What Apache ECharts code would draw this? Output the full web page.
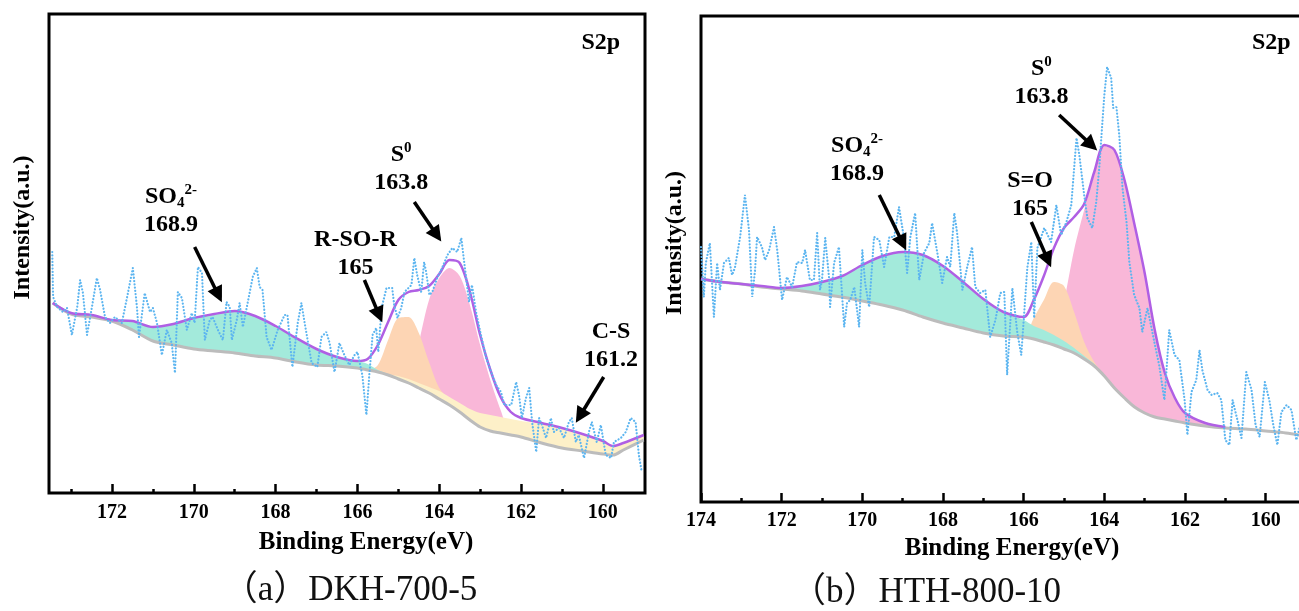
<!DOCTYPE html>
<html>
<head>
<meta charset="utf-8">
<title>S2p XPS spectra</title>
<script src="https://cdn.jsdelivr.net/npm/echarts@6/dist/echarts.min.js"></script>
<style>
  html, body { margin: 0; padding: 0; background: #fff; }
  #chart { width: 1299px; height: 611px; }
</style>
</head>
<body>
<div id="chart"></div>
<script>
// ---------- Sample (a) DKH-700-5 : fitted curves on a shared energy grid (eV) ----------
const gridA = [173.45, 173.0, 172.5, 172.0, 171.5, 171.0, 170.5, 170.0, 169.5, 169.0, 168.5, 168.0, 167.5, 167.0, 166.5,
  166.0, 165.75, 165.5, 165.25, 165.0, 164.75, 164.5, 164.25, 164.0, 163.75, 163.5, 163.25, 163.0, 162.75, 162.5,
  162.25, 162.0, 161.5, 161.0, 160.5, 160.0, 159.75, 159.5, 159.0];
const backgroundA = [190, 179, 176, 172, 163, 152, 148, 144, 142, 140, 137, 135, 131, 128, 127,
  125, 123, 121, 118, 114, 110, 105, 100, 94, 88, 81, 73, 66, 62, 60,
  58, 56, 50, 45, 42, 39, 38, 43, 53];
const envelopeA = [190, 180, 178, 173, 172, 166, 169, 175, 179, 182, 177, 167, 155, 144, 136,
  132, 134, 148, 171, 193, 201, 203, 207, 219, 233, 230, 201, 158, 123, 96,
  81, 75, 70, 65, 59, 52, 47, 50, 58];
const sulfateA = [190, 180, 178, 173, 172, 166, 169, 175, 179, 182, 177, 167, 155, 144, 136,
  132, 129, 123, 119, 115, null, null, null, null, null, null, null, null, null, null,
  null, null, null, null, null, null, null, null, null];
const sulfoxideA = [null, null, null, null, null, null, null, null, null, null, null, null, null, null, null,
  null, null, 128, 153, 175, 176, 160, 131, 105, 93, null, null, null, null, null,
  null, null, null, null, null, null, null, null, null];
const sulfurA = [null, null, null, null, null, null, null, null, null, null, null, null, null, null, null,
  null, null, null, null, null, null, 150, 193, 215, 225, 217, 188, 148, 113, 83,
  null, null, null, null, null, null, null, null, null];
const thiolA = [null, null, null, null, null, null, null, null, null, null, null, null, null, null, null,
  null, null, 121, 119, 117, 114, 110, 106, 102, 96, 90, 84, 80, 78, 76,
  74, 72, 69, 64, 58, 52, 47, 50, 57];
// measured counts (a)
const rawA = [[173.46,241],[173.44,196],[173.34,186],[173.20,181],[173.10,185],[172.98,158],[172.85,186],[172.78,213],[172.71,200],[172.61,158],
  [172.49,186],[172.37,215],[172.29,203],[172.17,176],[172.05,170],[171.93,176],[171.76,170],[171.63,196],[171.49,225],[171.39,186],
  [171.34,156],[171.20,200],[171.07,181],[171.00,185],[170.90,170],[170.78,138],[170.66,163],[170.54,150],[170.46,120],[170.39,201],
  [170.29,195],[170.17,163],[170.05,180],[169.98,170],[169.90,226],[169.80,220],[169.73,153],[169.61,173],[169.54,176],[169.41,163],
  [169.29,153],[169.20,191],[169.12,186],[169.07,153],[168.95,173],[168.88,190],[168.80,166],[168.68,191],[168.56,216],[168.46,225],
  [168.39,206],[168.32,203],[168.22,156],[168.10,143],[167.95,163],[167.78,178],[167.71,178],[167.59,126],[167.46,170],[167.37,190],
  [167.29,170],[167.12,130],[166.98,126],[166.88,156],[166.76,161],[166.68,150],[166.56,121],[166.44,150],[166.32,138],[166.20,128],
  [166.07,138],[166.00,141],[165.88,118],[165.78,78],[165.71,118],[165.63,158],[165.54,165],[165.49,141],[165.41,185],[165.29,205],
  [165.22,205],[165.15,205],[165.10,188],[165.02,175],[164.93,185],[164.85,201],[164.68,208],[164.61,235],[164.54,218],[164.44,201],
  [164.37,231],[164.32,221],[164.24,198],[164.17,201],[164.05,215],[163.93,225],[163.80,238],[163.68,245],[163.56,241],[163.46,255],
  [163.39,231],[163.27,191],[163.20,208],[163.10,181],[162.98,158],[162.85,135],[162.73,121],[162.61,108],[162.49,101],[162.41,88],
  [162.24,88],[162.12,111],[162.05,98],[161.98,75],[161.88,95],[161.80,105],[161.73,71],[161.63,41],[161.56,75],[161.49,68],
  [161.39,55],[161.27,75],[161.20,61],[161.07,65],[160.95,55],[160.83,71],[160.76,75],[160.66,51],[160.59,58],[160.46,35],
  [160.34,61],[160.27,71],[160.15,51],[160.05,68],[159.93,38],[159.80,35],[159.73,51],[159.56,55],[159.44,61],[159.32,75],
  [159.20,71],[159.12,38],[159.05,21]];

// ---------- Sample (b) HTH-800-10 ----------
const gridB = [174.0, 173.5, 173.0, 172.5, 172.0, 171.5, 171.0, 170.5, 170.0, 169.5, 169.0, 168.5, 168.0, 167.5, 167.0,
  166.5, 166.0, 165.75, 165.5, 165.25, 165.0, 164.75, 164.5, 164.25, 164.0, 163.75, 163.5, 163.25, 163.0, 162.75,
  162.5, 162.25, 162.0, 161.5, 161.0, 160.5, 160.0, 159.5, 159.0];
const backgroundB = [223, 220, 218, 215, 213, 211, 208, 205, 201, 197, 192, 185, 179, 174, 169,
  166, 165, 163, 160, 157, 153, 149, 143, 136, 126, 114, 104, 95, 89, 85,
  83, 81, 79, 76, 74, 73, 71, 69, 66];
const envelopeB = [223, 220, 218, 216, 214, 216, 220, 226, 237, 246, 250, 247, 236, 220, 203,
  190, 185, 202, 226, 254, 274, 285, 298, 330, 357, 352, 322, 277, 229, 172,
  129, 104, 89, 79, 75, null, null, null, null];
const sulfateB = [223, 220, 218, 216, 214, 216, 220, 226, 237, 246, 250, 247, 236, 220, 203,
  190, 182, 176, 172, 167, 161, 154, 146, 138, null, null, null, null, null, null,
  null, null, null, null, null, null, null, null, null];
const sulfoxideB = [null, null, null, null, null, null, null, null, null, null, null, null, null, null, null,
  null, null, 184, 202, 220, 216, 190, 160, 140, 127, null, null, null, null, null,
  null, null, null, null, null, null, null, null, null];
const sulfurB = [null, null, null, null, null, null, null, null, null, null, null, null, null, null, null,
  null, null, null, null, null, 200, 252, 292, 327, 356, 351, 321, 276, 228, 171,
  128, 103, 88, 79, 75, null, null, null, null];
// measured counts (b)
const rawB = [[174.00,255],[173.93,205],[173.88,239],[173.78,259],[173.73,222],[173.68,185],[173.60,239],[173.53,212],[173.43,239],[173.31,244],
  [173.23,227],[173.16,234],[173.03,265],[172.91,307],[172.81,272],[172.73,205],[172.66,232],[172.61,265],[172.49,255],[172.41,242],
  [172.31,252],[172.19,275],[172.11,252],[171.99,202],[171.87,225],[171.74,215],[171.62,240],[171.49,239],[171.42,252],[171.30,222],
  [171.20,222],[171.12,269],[171.05,212],[171.00,222],[170.92,264],[170.82,222],[170.80,195],[170.70,239],[170.58,255],[170.45,175],
  [170.38,199],[170.30,202],[170.20,215],[170.08,175],[170.00,252],[169.93,219],[169.83,195],[169.71,265],[169.58,262],[169.46,235],
  [169.33,265],[169.21,265],[169.09,295],[168.96,262],[168.89,229],[168.81,265],[168.69,289],[168.59,222],[168.47,249],[168.34,259],
  [168.27,279],[168.14,249],[168.02,219],[167.90,245],[167.82,235],[167.72,289],[167.65,269],[167.52,212],[167.40,235],[167.28,255],
  [167.20,215],[167.08,209],[166.95,212],[166.83,165],[166.70,182],[166.58,209],[166.48,210],[166.41,127],[166.28,214],[166.16,170],
  [166.06,147],[165.99,187],[165.91,234],[165.81,260],[165.74,184],[165.66,254],[165.49,274],[165.32,260],[165.19,297],[165.07,267],
  [164.94,280],[164.82,297],[164.69,364],[164.62,347],[164.50,307],[164.42,284],[164.30,274],[164.20,300],[164.12,337],[164.07,367],
  [164.00,407],[163.93,435],[163.83,424],[163.78,394],[163.70,395],[163.63,367],[163.55,314],[163.45,280],[163.38,240],[163.26,207],
  [163.13,194],[163.06,170],[162.93,194],[162.76,160],[162.64,137],[162.51,102],[162.39,172],[162.26,147],[162.14,142],[162.01,102],
  [161.94,67],[161.84,110],[161.72,122],[161.64,152],[161.57,132],[161.44,112],[161.34,107],[161.20,109],[161.10,102],[161.00,62],
  [160.90,57],[160.82,102],[160.70,82],[160.60,64],[160.48,130],[160.35,112],[160.25,77],[160.15,65],[160.02,120],[159.91,102],
  [159.81,77],[159.71,57],[159.61,90],[159.48,97],[159.36,92],[159.24,62],[159.11,82]];

// ---------- tick values ----------
const ticksA = [160, 162, 164, 166, 168, 170, 172];
const minorTicksA = [161, 163, 165, 167, 169, 171, 173];
const ticksB = [160, 162, 164, 166, 168, 170, 172, 174];
const minorTicksB = [159, 161, 163, 165, 167, 169, 171, 173];

// ---------- peak labels: anchor [eV, intensity] and text ----------
const labelsA = [
  { at: [170.56, 282], text: '{t|SO}{sub|4}{sup|2-}\n{t|168.9}' },
  { at: [166.05, 239], text: '{t|R-SO-R}\n{t|165}' },
  { at: [164.93, 324], text: '{t|S}{sup|0}\n{t|163.8}' },
  { at: [159.80, 147], text: '{t|C-S}\n{t|161.2}' },
  { at: [160.05, 450], text: '{t|S2p}' }
];
const arrowsA = [
  [[169.98, 246], [169.40, 198]],
  [[165.83, 213], [165.47, 178]],
  [[164.61, 291], [164.06, 258]],
  [[159.98, 116], [160.56, 77]]
];
const labelsB = [
  { at: [170.13, 342], text: '{t|SO}{sub|4}{sup|2-}\n{t|168.9}' },
  { at: [165.84, 307], text: '{t|S=O}\n{t|165}' },
  { at: [165.56, 419], text: '{t|S}{sup|0}\n{t|163.8}' },
  { at: [159.86, 459], text: '{t|S2p}' }
];
const arrowsB = [
  [[169.58, 307], [169.00, 259]],
  [[165.81, 280], [165.40, 242]],
  [[165.12, 387], [164.32, 357]]
];

// ---------- styling ----------
const SERIF = "'Liberation Serif', 'Times New Roman', serif";
const SERIF_CJK = "'Liberation Serif', 'Noto Sans CJK SC', serif";
const C = {
  sulfate: '#a3eadb', sulfoxide: '#fdd5b4', sulfur: '#f9b7d8', thiol: '#fdf0c8',
  envelope: '#b05fe4', background: '#bcbcbc', raw: '#5cb5f0', ink: '#000'
};
const TOKEN = { fontFamily: SERIF, fontWeight: 'bold', color: C.ink, textBorderWidth: 0, textShadowBlur: 0, opacity: 1 };
const RICH = {
  t: Object.assign({ fontSize: 24, lineHeight: 28 }, TOKEN),
  sub: Object.assign({ fontSize: 15, lineHeight: 12, verticalAlign: 'bottom' }, TOKEN),
  sup: Object.assign({ fontSize: 15, lineHeight: 12, verticalAlign: 'top' }, TOKEN)
};

// Component fill between the background and its own top curve.
// Values come first in each item (encode y:0) so the stack is applied to intensity.
function componentFill(gi, energy, bg, top, color, key) {
  const stack = 'p' + gi + key;
  const common = {
    type: 'line', xAxisIndex: gi * 2, yAxisIndex: gi, stack, stackStrategy: 'all',
    encode: { x: 1, y: 0 },
    symbol: 'none', smooth: 0.3, silent: true, lineStyle: { width: 0, opacity: 0 }
  };
  return [
    Object.assign({}, common, { data: energy.map((e, k) => [bg[k], e]) }),
    Object.assign({}, common, {
      data: energy.map((e, k) => [top[k] == null ? 0 : Math.max(0, top[k] - bg[k]), e]),
      areaStyle: { color, opacity: 1 }
    })
  ];
}

function curve(gi, energy, values, color, width, smooth) {
  return {
    type: 'line', xAxisIndex: gi * 2, yAxisIndex: gi, symbol: 'none', silent: true, smooth,
    data: energy.map((e, k) => [e, values[k]]),
    lineStyle: { color, width }
  };
}

function rawLine(gi, pts) {
  return {
    type: 'line', xAxisIndex: gi * 2, yAxisIndex: gi, symbol: 'none', silent: true,
    data: pts,
    lineStyle: { color: C.raw, width: 2.2, type: [0.1, 3.2], cap: 'round' }
  };
}

function annotations(gi, labels, arrows) {
  return {
    type: 'scatter', xAxisIndex: gi * 2, yAxisIndex: gi, symbolSize: 0, silent: true,
    itemStyle: { color: '#000', opacity: 1 },
    data: labels.map(l => ({ value: l.at, label: { formatter: l.text } })),
    label: {
      show: true, position: 'inside', align: 'center', verticalAlign: 'middle',
      color: C.ink, opacity: 1, textBorderWidth: 0, textBorderColor: 'transparent', rich: RICH
    },
    markLine: {
      silent: true, animation: false, symbol: ['none', 'triangle'], symbolSize: 16,
      label: { show: false },
      lineStyle: { color: '#000', width: 3.5, type: 'solid', opacity: 1 },
      emphasis: { disabled: true },
      data: arrows.map(a => [{ coord: a[0] }, { coord: a[1] }])
    }
  };
}

function xAxes(gi, min, max, ticks, minors, nameGap, namePad, labelMargin) {
  return [{
    type: 'value', gridIndex: gi, inverse: true, min, max, position: 'bottom',
    axisLine: { show: false }, splitLine: { show: false },
    axisTick: { show: true, inside: true, length: 9, customValues: ticks, lineStyle: { color: '#000', width: 2.5 } },
    axisLabel: { show: true, customValues: ticks, margin: labelMargin, color: C.ink, fontFamily: SERIF, fontWeight: 'bold', fontSize: 20 },
    name: 'Binding Energy(eV)', nameLocation: 'middle', nameGap,
    nameTextStyle: { fontFamily: SERIF, fontWeight: 'bold', fontSize: 25, color: C.ink, padding: [0, 0, 0, namePad] }
  }, {
    type: 'value', gridIndex: gi, inverse: true, min, max, position: 'bottom',
    axisLine: { show: false }, splitLine: { show: false }, axisLabel: { show: false },
    axisTick: { show: true, inside: true, length: 4, customValues: minors, lineStyle: { color: '#000', width: 2.5 } }
  }];
}

function yAxis(gi, max, namePad) {
  return {
    type: 'value', gridIndex: gi, min: 0, max,
    axisLine: { show: false }, axisTick: { show: false }, axisLabel: { show: false }, splitLine: { show: false },
    name: 'Intensity(a.u.)', nameLocation: 'middle', nameGap: 14, nameRotate: 90,
    nameTextStyle: { fontFamily: SERIF, fontWeight: 'bold', fontSize: 24, color: C.ink, padding: [0, 0, 0, namePad] }
  };
}

const chart = echarts.init(document.getElementById('chart'), null, { renderer: 'canvas' });
const frame = { show: true, borderColor: '#000', borderWidth: 3, backgroundColor: 'transparent', outerBoundsMode: 'none', containLabel: false };

chart.setOption({
  animation: false,
  backgroundColor: '#fff',
  grid: [
    Object.assign({ left: 49, top: 14, width: 596, height: 479 }, frame),
    Object.assign({ left: 701, top: 16, width: 605, height: 486 }, frame)
  ],
  xAxis: [].concat(
    xAxes(0, 158.97, 173.54, ticksA, minorTicksA, 37, 38, 10),
    xAxes(1, 159.0, 174.0, ticksB, minorTicksB, 30, 17, 9)
  ),
  yAxis: [yAxis(0, 479, 52), yAxis(1, 486, 32)],
  series: [].concat(
    componentFill(0, gridA, backgroundA, sulfurA, C.sulfur, 's0'),
    componentFill(0, gridA, backgroundA, sulfoxideA, C.sulfoxide, 'so'),
    componentFill(0, gridA, backgroundA, thiolA, C.thiol, 'cs'),
    componentFill(0, gridA, backgroundA, sulfateA, C.sulfate, 'so4'),
    [curve(0, gridA, backgroundA, C.background, 3, 0.3),
     curve(0, gridA, envelopeA, C.envelope, 2.5, 0.3),
     rawLine(0, rawA),
     annotations(0, labelsA, arrowsA)],
    componentFill(1, gridB, backgroundB, sulfurB, C.sulfur, 's0'),
    componentFill(1, gridB, backgroundB, sulfoxideB, C.sulfoxide, 'so'),
    componentFill(1, gridB, backgroundB, sulfateB, C.sulfate, 'so4'),
    [curve(1, gridB, backgroundB, C.background, 3, 0.3),
     curve(1, gridB, envelopeB, C.envelope, 2.5, 0.3),
     rawLine(1, rawB),
     annotations(1, labelsB, arrowsB)]
  ),
  graphic: [
    { type: 'text', x: 350, y: 591, silent: true,
      style: { text: '（a）DKH-700-5', fontSize: 35, fontFamily: SERIF_CJK, fill: '#111', align: 'center', verticalAlign: 'middle' } },
    { type: 'text', x: 926, y: 593, silent: true,
      style: { text: '（b）HTH-800-10', fontSize: 35, fontFamily: SERIF_CJK, fill: '#111', align: 'center', verticalAlign: 'middle' } }
  ]
});
</script>
</body>
</html>
